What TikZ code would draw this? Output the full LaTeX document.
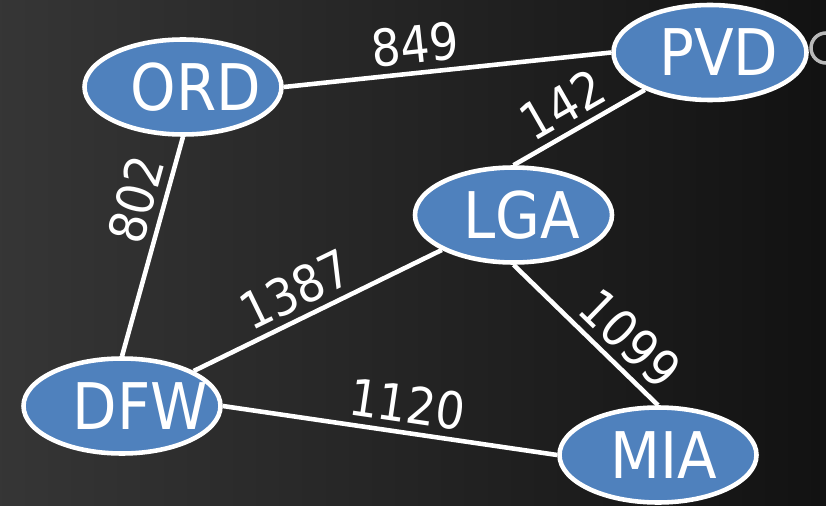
\documentclass[tikz,border=0pt]{standalone}
\usepackage{fontspec}
\setmainfont{DejaVu Sans Condensed}
\usepackage{xcolor}
\usetikzlibrary{shapes.geometric}

\definecolor{cityblue}{HTML}{4F81BD}

\tikzset{
    city/.style={ellipse, draw=white, line width=1.3pt, fill=cityblue,
        minimum width=1.97cm, minimum height=0.95cm, inner sep=0pt},
    cityname/.style={text=white, font=\fontsize{18.3}{20}\selectfont, inner sep=0pt},
    route/.style={draw=white, line width=1.3pt},
    dist/.style={text=white, font=\fontsize{14.5}{16}\selectfont, inner sep=2pt, sloped, above}
}

\begin{document}
\begin{tikzpicture}
        \pgfmathsetmacro{\picwidth}{8.26}
        \pgfmathsetmacro{\picheight}{5.05}
        \clip (0, 0) rectangle (\picwidth, \picheight);
        \shade[left color=black!79, right color=black!93] (0, 0) rectangle (\picwidth, \picheight);
        \useasboundingbox (0, 0) rectangle (\picwidth, \picheight);

        \draw [gray!55, line width=1pt] (8.26, 4.57) circle (0.15);

        \node[city, label={[cityname, xshift=0.13cm]center:ORD}] (ord) at (1.83, 4.18) {};
        \node[city, minimum width=1.93cm, label={[cityname, xshift=0.09cm]center:PVD}] (pvd) at (7.10, 4.525) {};
        \node[city, label={[cityname, xshift=0.08cm]center:LGA}] (lga) at (5.135, 2.90) {};
        \node[city, label={[cityname, xshift=0.18cm]center:DFW}] (dfw) at (1.22, 0.99) {};
        \node[city, label={[cityname, xshift=0.06cm]center:MIA}] (mia) at (6.58, 0.50) {};

        \draw [route] (ord.east) -- (pvd.west) node[dist, pos=0.41] (d849) {849};
        \draw [route] (dfw.north) -- (ord.south) node[dist, pos=0.68] (d802) {802};
        \draw [route] (lga.north) -- (pvd) node[dist, pos=0.48] (d142) {142};
        \draw [route] (dfw) -- (lga) node[dist, pos=0.46] (d1387) {1387};
        \draw [route] (dfw.east) -- (mia.west) node[dist, pos=0.54] (d1120) {1120};
        \draw [route] (lga.south) -- (mia.north) node[dist, pos=0.67] (d1099) {1099};
    \end{tikzpicture}
\end{document}
